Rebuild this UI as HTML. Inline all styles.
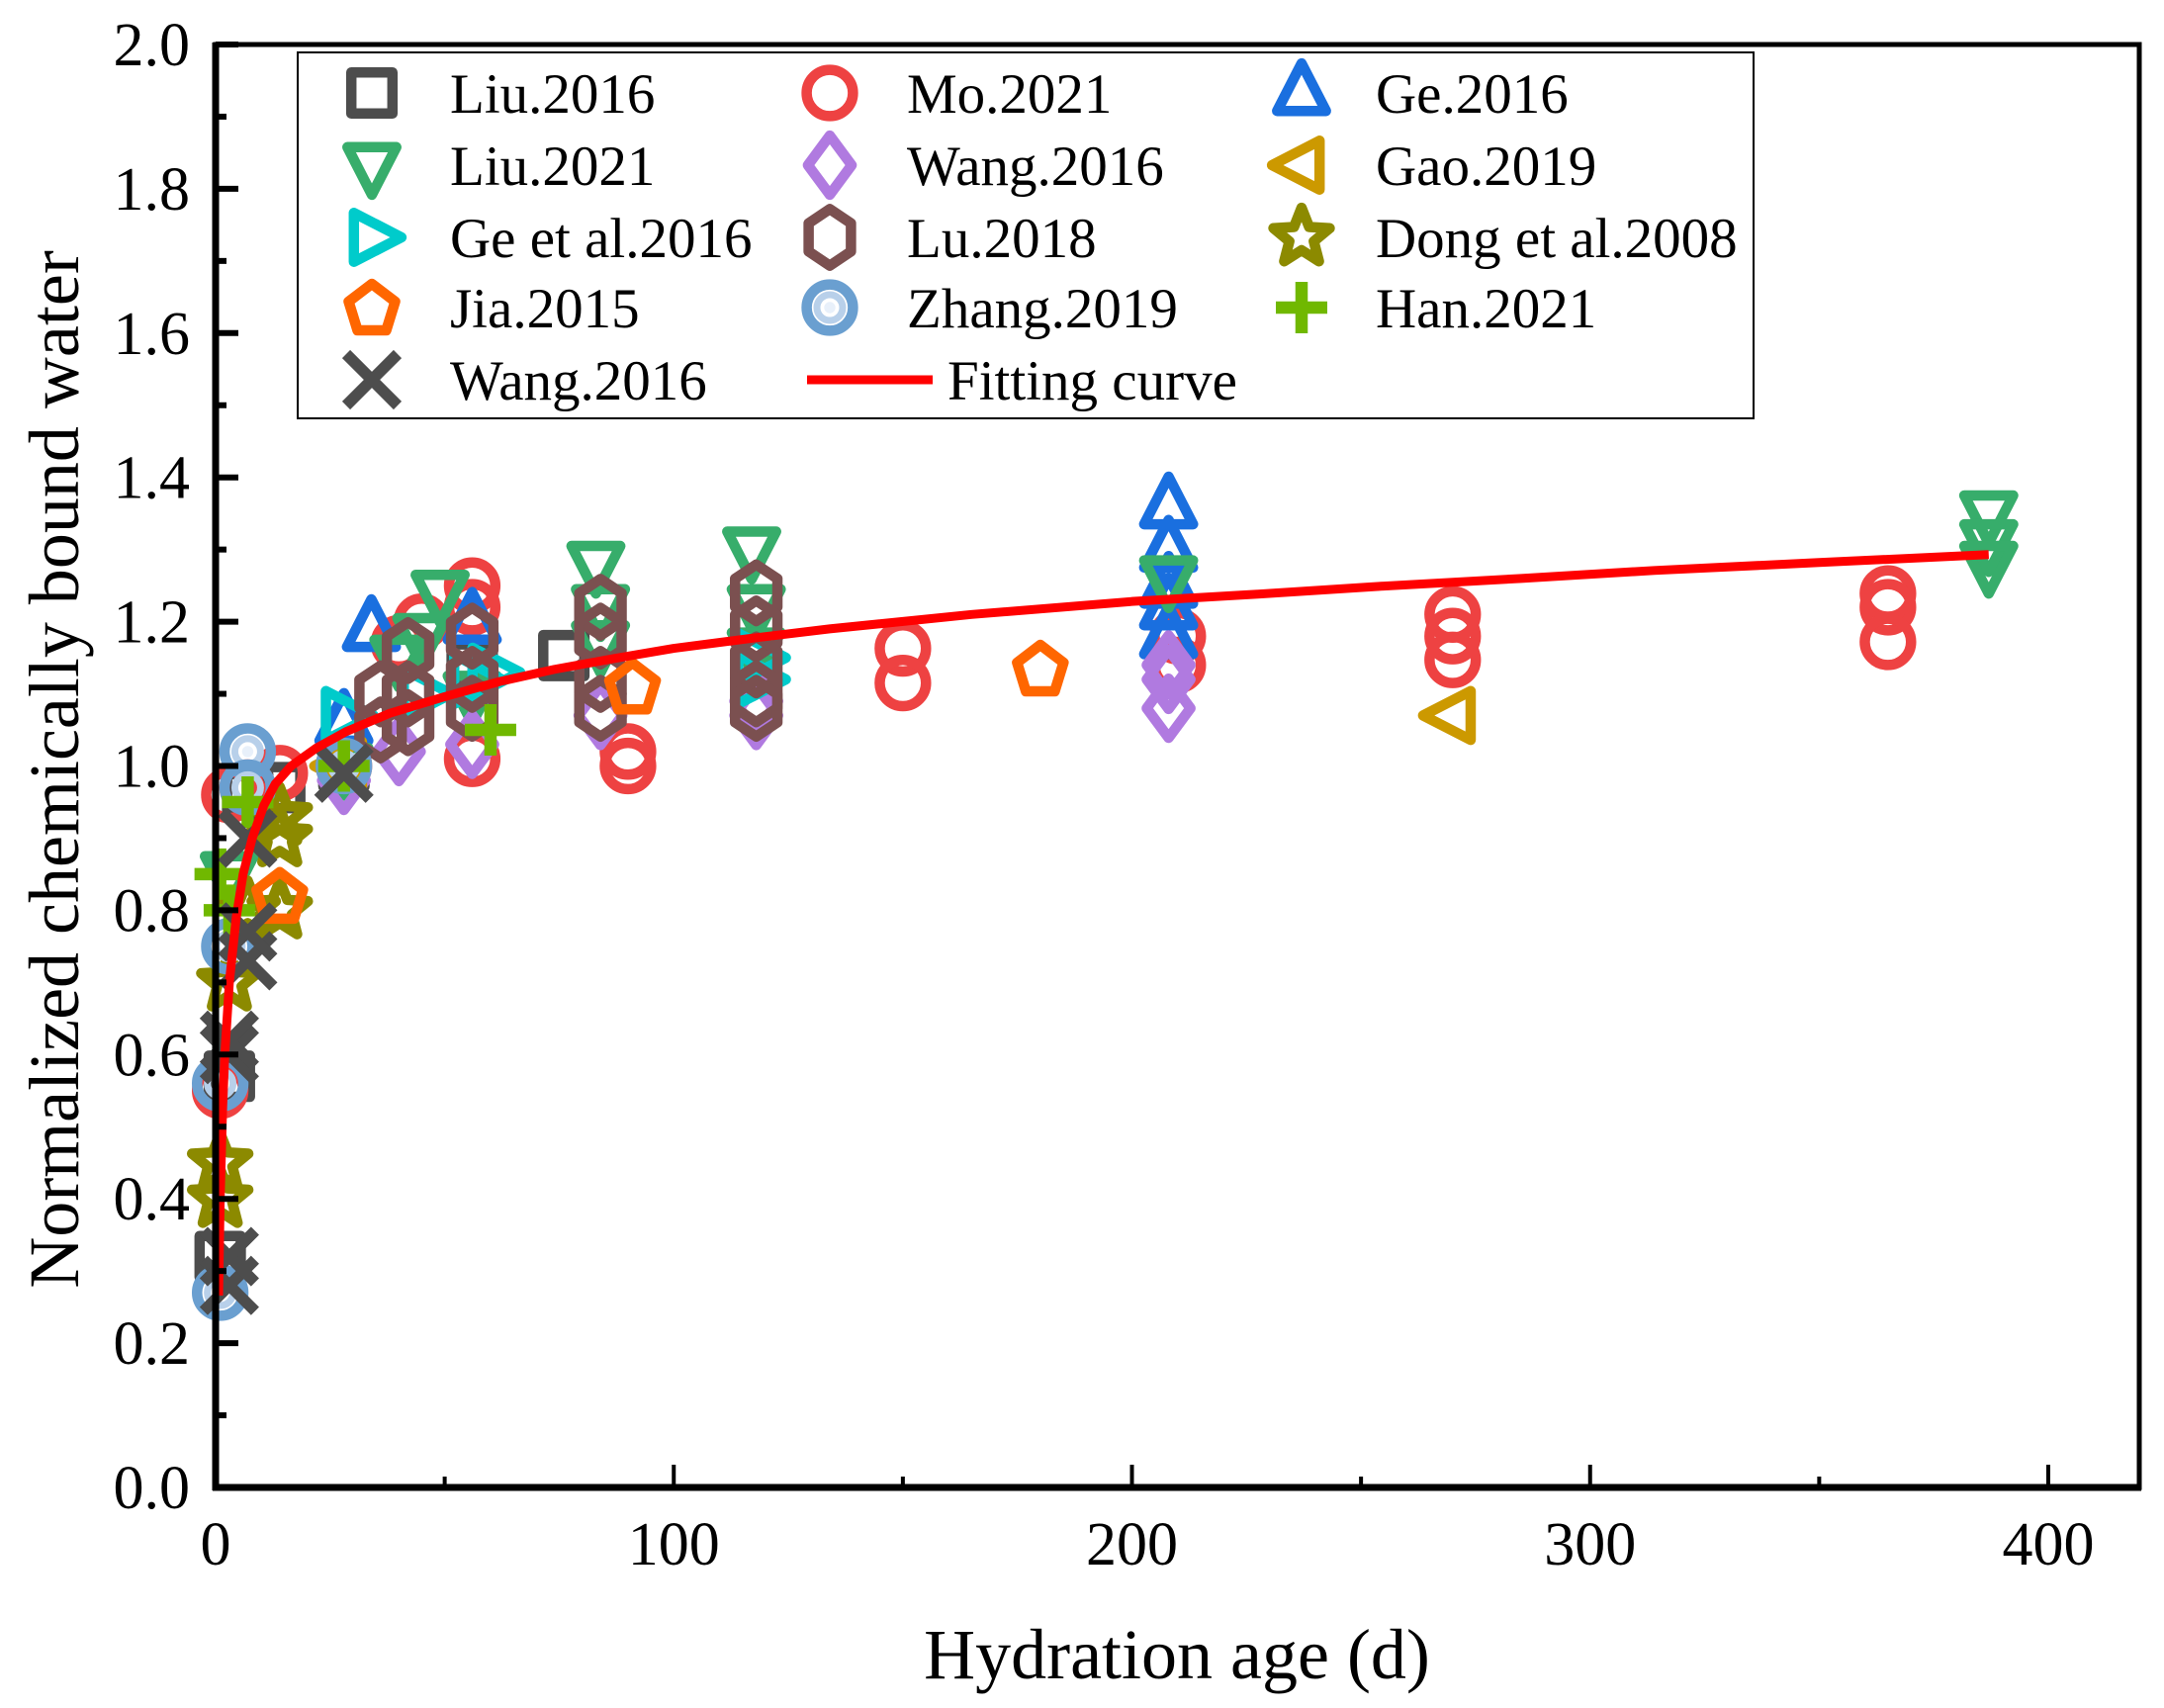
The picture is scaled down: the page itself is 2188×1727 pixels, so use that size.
<!DOCTYPE html>
<html><head><meta charset="utf-8"><style>
html,body{margin:0;padding:0;background:#fff;}
svg{display:block;font-family:"Liberation Serif",serif;}
</style></head><body>
<svg id="chart" width="2188" height="1727" viewBox="0 0 2188 1727" xmlns="http://www.w3.org/2000/svg">
<g id="marks"></g>
<g id="axes"></g>
<g id="legend"></g>
</svg>
<script>
// ---- data ----
const xTicks = [0,100,200,300,400];
const yTicks = [0.0,0.2,0.4,0.6,0.8,1.0,1.2,1.4,1.6,1.8,2.0];
const fitT = [0.65,1,1.5,2,3,4.5,6,8,10.5,13,16.5,22,28.6,38,50,62,74,87,100,117,134,165,200,227,254,285,314,350,387];
const fitY = [0.266,0.40,0.52,0.60,0.70,0.79,0.85,0.90,0.945,0.975,1.0,1.025,1.048,1.073,1.096,1.117,1.134,1.149,1.163,1.177,1.19,1.21,1.228,1.238,1.249,1.26,1.271,1.282,1.293];

const liu2016T=[1,3,7,14,28,56,76];        const liu2016Y=[0.32,0.57,0.96,0.97,1.0,1.14,1.153];
const liu2021T=[3,28,40,45,49,56,83,84,84,117,118,118,208,387,387,387]; const liu2021Y=[0.85,1.0,1.15,1.18,1.24,1.1,1.28,1.22,1.17,1.30,1.22,1.16,1.26,1.35,1.31,1.28];
const ge2016T=[28,34,56,208,208,208,208,208];   const ge2016Y=[1.06,1.19,1.2,1.36,1.30,1.25,1.22,1.18];
const geEtT=[28,45,56,60,118,118];          const geEtY=[1.07,1.1,1.12,1.13,1.12,1.15];
const mo2021T=[1,3,7,14,28,40,45,56,56,56,90,90,150,150,210,210,270,270,270,365,365,365];
const mo2021Y=[0.55,0.96,0.97,0.99,1.0,1.17,1.2,1.25,1.22,1.01,1.02,1.0,1.163,1.115,1.18,1.14,1.21,1.18,1.147,1.239,1.22,1.172];
const wangDT=[28,40,56,84,118,118,208,208,208]; const wangDY=[0.98,1.02,1.03,1.07,1.07,1.09,1.08,1.12,1.14];
const gaoT=[28,270];                        const gaoY=[1.0,1.07];
const luT=[36,36,42,42,42,56,56,56,84,84,84,84,118,118,118,118,118]; const luY=[1.1,1.05,1.16,1.1,1.06,1.18,1.12,1.08,1.22,1.18,1.12,1.08,1.24,1.19,1.14,1.1,1.08];
const zhangT=[1,1,3,7,7,28];                const zhangY=[0.27,0.56,0.75,1.02,0.97,1.0];
const dongT=[1,1,3,7,14,14,14];             const dongY=[0.4,0.45,0.7,0.8,0.9,0.8,0.93];
const hanT=[1,3,7,28,60];                   const hanY=[0.85,0.8,0.95,1.0,1.05];
const jiaT=[14,91,180];                     const jiaY=[0.82,1.11,1.135];
const wangXT=[3,3,3,3,7,7,7,28];            const wangXY=[0.28,0.32,0.6,0.62,0.73,0.77,0.9,0.99];

// ---- scales ----
const X0=218, X1=2163, Y0=1504, YT=45;
const sx = t => X0 + t*(2071-218)/400;
const sy = v => Y0 - v*(Y0-YT)/2.0;
const NS='http://www.w3.org/2000/svg';
function mk(tag, attrs, parent){const e=document.createElementNS(NS,tag);for(const k in attrs)e.setAttribute(k,attrs[k]);parent.appendChild(e);return e;}

const SW=10.5, R=26;
function marker(type,color,cx,cy,parent,r){
  r=r||R; let e; const base={fill:'none',stroke:color,'stroke-width':SW,'stroke-linejoin':'round'};
  const poly=pts=>{const p=Object.assign({points:pts.map(q=>q.join(',')).join(' ')},base);return mk('polygon',p,parent);};
  switch(type){
    case 'square': e=mk('rect',Object.assign({x:cx-r*0.8,y:cy-r*0.8,width:r*1.6,height:r*1.6},base),parent);break;
    case 'circle': e=mk('circle',Object.assign({cx:cx,cy:cy,r:r*0.9},base),parent);break;
    case 'zhang': e=mk('circle',Object.assign({cx:cx,cy:cy,r:r*0.9},base),parent);
      mk('circle',{cx:cx,cy:cy,r:r*0.5,fill:'none',stroke:'#b8d0ea','stroke-width':7},parent);
      mk('circle',{cx:cx,cy:cy,r:r*0.22,fill:'#e8f0fa'},parent);break;
    case 'up': e=poly([[cx,cy-r*1.15],[cx+r*0.95,cy+r*0.7],[cx-r*0.95,cy+r*0.7]]);break;
    case 'down': e=poly([[cx,cy+r*1.15],[cx+r*0.95,cy-r*0.7],[cx-r*0.95,cy-r*0.7]]);break;
    case 'right': e=poly([[cx+r*1.15,cy],[cx-r*0.7,cy-r*0.95],[cx-r*0.7,cy+r*0.95]]);break;
    case 'left': e=poly([[cx-r*1.15,cy],[cx+r*0.7,cy-r*0.95],[cx+r*0.7,cy+r*0.95]]);break;
    case 'diamond': e=poly([[cx,cy-r*1.15],[cx+r*0.85,cy],[cx,cy+r*1.15],[cx-r*0.85,cy]]);break;
    case 'pent': {const p=[];for(let i=0;i<5;i++){const a=-Math.PI/2+i*2*Math.PI/5;p.push([cx+r*0.95*Math.cos(a),cy+r*1.0*Math.sin(a)+2]);}e=poly(p);break;}
    case 'hex': {const p=[];for(let i=0;i<6;i++){const a=-Math.PI/2+i*Math.PI/3;p.push([cx+r*0.95*Math.cos(a),cy+r*1.1*Math.sin(a)]);}e=poly(p);break;}
    case 'star': {const p=[];for(let i=0;i<10;i++){const a=-Math.PI/2+i*Math.PI/5;const rr=i%2?r*0.5:r*1.15;p.push([cx+rr*Math.cos(a),cy+rr*Math.sin(a)]);}e=poly(p);break;}
    case 'plus': e=mk('path',{d:`M${cx-r} ${cy}H${cx+r}M${cx} ${cy-r}V${cy+r}`,stroke:color,'stroke-width':SW+2,fill:'none'},parent);break;
    case 'x': e=mk('path',{d:`M${cx-r} ${cy-r}L${cx+r} ${cy+r}M${cx+r} ${cy-r}L${cx-r} ${cy+r}`,stroke:color,'stroke-width':SW+1,fill:'none'},parent);break;
  }
  return e;
}

const series=[
 {name:'Liu.2016',type:'square',color:'#4d4d4d',t:liu2016T,y:liu2016Y,slug:'liu-2016'},
 {name:'Mo.2021',type:'circle',color:'#ee4242',t:mo2021T,y:mo2021Y,slug:'mo-2021'},
 {name:'Ge.2016',type:'up',color:'#1a6fdf',t:ge2016T,y:ge2016Y,slug:'ge-2016'},
 {name:'Liu.2021',type:'down',color:'#37ad6b',t:liu2021T,y:liu2021Y,slug:'liu-2021'},
 {name:'Wang.2016',type:'diamond',color:'#b07ae0',t:wangDT,y:wangDY,slug:'wang-2016-diamond'},
 {name:'Gao.2019',type:'left',color:'#cc9900',t:gaoT,y:gaoY,slug:'gao-2019'},
 {name:'Ge et al.2016',type:'right',color:'#00cbcb',t:geEtT,y:geEtY,slug:'ge-et-al-2016'},
 {name:'Lu.2018',type:'hex',color:'#7b5050',t:luT,y:luY,slug:'lu-2018'},
 {name:'Dong et al.2008',type:'star',color:'#8c8a00',t:dongT,y:dongY,slug:'dong-et-al-2008'},
 {name:'Jia.2015',type:'pent',color:'#ff6600',t:jiaT,y:jiaY,slug:'jia-2015'},
 {name:'Zhang.2019',type:'zhang',color:'#6a9fd0',t:zhangT,y:zhangY,slug:'zhang-2019'},
 {name:'Han.2021',type:'plus',color:'#70b800',t:hanT,y:hanY,slug:'han-2021'},
 {name:'Wang.2016',type:'x',color:'#4d4d4d',t:wangXT,y:wangXY,slug:'wang-2016-x'}
];

const marks=document.getElementById('marks');
series.forEach(s=>{
  const g=mk('g',{},marks);
  
  
  s.t.forEach((t,i)=>{
    const m=marker(s.type,s.color,sx(t),sy(s.y[i]),g);
    
    
  });
});
const fit=mk('polyline',{points:fitT.map((t,i)=>sx(t)+','+sy(fitY[i])).join(' '),fill:'none',stroke:'#ff0000','stroke-width':9,'stroke-linejoin':'round'},marks);



// ---- axes ----
const ax=document.getElementById('axes');
const frame=mk('rect',{x:X0,y:YT,width:X1-X0,height:Y0-YT,fill:'none',stroke:'#000','stroke-width':5},ax);


mk('line',{x1:X0,y1:YT-2,x2:X0,y2:Y0+3,stroke:'#000','stroke-width':7},ax);
mk('line',{x1:X0-3,y1:Y0,x2:X1+2,y2:Y0,stroke:'#000','stroke-width':7},ax);
yTicks.forEach(v=>{
  const y=sy(v);
  mk('line',{x1:X0,y1:y,x2:X0+23,y2:y,stroke:'#000','stroke-width':6},ax);
  if(v<2.0) mk('line',{x1:X0,y1:sy(v+0.1),x2:X0+11,y2:sy(v+0.1),stroke:'#000','stroke-width':6},ax);
  const t=mk('text',{x:192,y:y+21,'text-anchor':'end','font-size':62},ax);
  t.textContent=v.toFixed(1);
  
  
});
xTicks.forEach(v=>{
  const x=sx(v);
  mk('line',{x1:x,y1:Y0,x2:x,y2:Y0-23,stroke:'#000','stroke-width':4},ax);
  if(v<400) mk('line',{x1:sx(v+50),y1:Y0,x2:sx(v+50),y2:Y0-11,stroke:'#000','stroke-width':4},ax);
  const t=mk('text',{x:x,y:1582,'text-anchor':'middle','font-size':62},ax);
  t.textContent=String(v);
  
  
});
const xt=mk('text',{x:1190,y:1697,'text-anchor':'middle','font-size':72},ax);
xt.textContent='Hydration age (d)';


const yt=mk('text',{x:0,y:0,'text-anchor':'middle','font-size':72,transform:'translate(79,778) rotate(-90)'},ax);
yt.textContent='Normalized chemically bound water';



// ---- legend ----
const lg=document.getElementById('legend');
const box=mk('rect',{x:301,y:53,width:1472,height:370,fill:'#fff',stroke:'#000','stroke-width':2},lg);


const rows=[94,167,240,311,384];
const cols=[[376,455],[839,917],[1316,1391]];
const legendItems=[
 [0,0,0],[0,1,3],[0,2,6],[0,3,9],[0,4,12],
 [1,0,1],[1,1,4],[1,2,7],[1,3,10],
 [2,0,2],[2,1,5],[2,2,8],[2,3,11]
];
legendItems.forEach(([c,r,si])=>{
  const s=series[si];
  const g=mk('g',{},lg);
  
  
  marker(s.type,s.color,cols[c][0],rows[r],g);
  const t=mk('text',{x:cols[c][1],y:rows[r]+20,'font-size':57},g);
  t.textContent=s.name;
});
const fg=mk('g',{},lg);


mk('line',{x1:816,y1:384,x2:943,y2:384,stroke:'#ff0000','stroke-width':9},fg);
const ft=mk('text',{x:958,y:404,'font-size':57},fg);
ft.textContent='Fitting curve';
</script>
</body></html>
